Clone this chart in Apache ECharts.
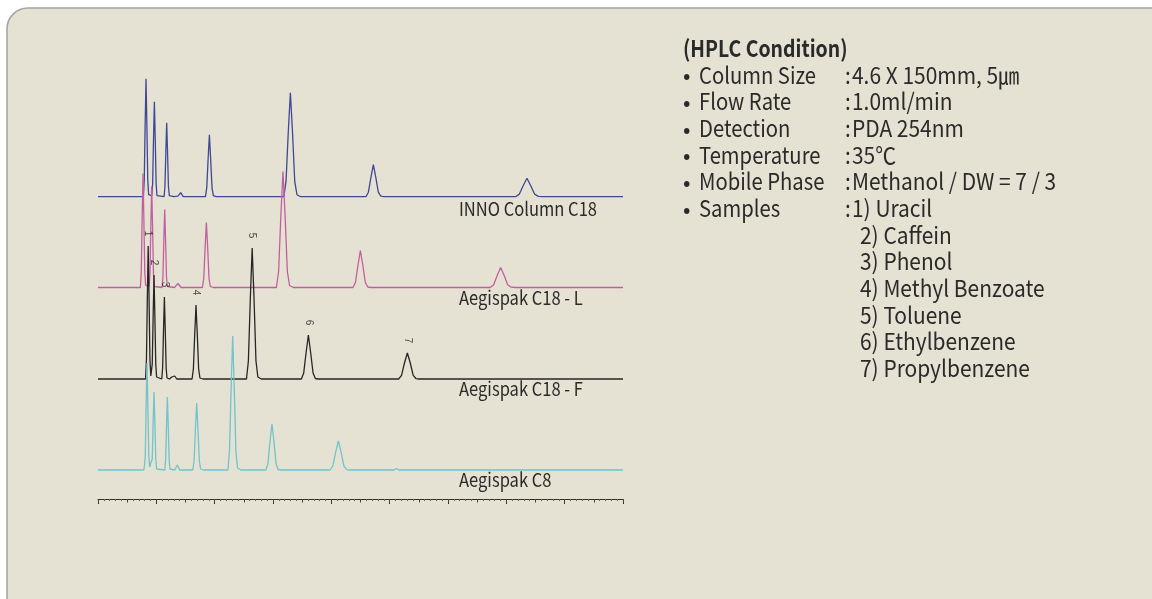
<!DOCTYPE html>
<html><head><meta charset="utf-8">
<script src="https://cdn.jsdelivr.net/npm/echarts@6/dist/echarts.min.js"></script>
<style>html,body{margin:0;padding:0;background:#fff;}#c{width:1152px;height:599px;}</style>
</head><body><div id="c"></div>
<script>
// ---- data (time in min, detector response) ----
const traceNames = ['INNO Column C18', 'Aegispak C18 - L', 'Aegispak C18 - F', 'Aegispak C8'];

const innoC18 = [
  [0,0],
  [1.556,0],[1.586,17],[1.616,71],[1.646,118],[1.676,71],[1.706,17],[1.736,2],
  [1.843,1],[1.873,13],[1.903,57],[1.933,95],[1.963,57],[1.993,13],[2.023,1],
  [2.265,0],[2.295,10],[2.325,44],[2.355,74],[2.385,44],[2.415,10],[2.445,1],
  [2.6,0],[2.664,1.5],[2.74,0.5],[2.835,4],[2.92,0],
  [3.684,0],[3.729,9],[3.774,37],[3.819,62],[3.864,37],[3.909,9],[3.954,1],[4.05,0],
  [6.371,0],[6.446,15],[6.521,63],[6.596,104],[6.671,63],[6.746,15],[6.821,2],[6.95,0],
  [9.186,0],[9.271,4.5],[9.356,19],[9.441,32],[9.526,19],[9.611,4.5],[9.696,0.5],[9.8,0],
  [14.317,0],[14.447,2.6],[14.577,11],[14.707,18.5],[14.837,11],[14.967,2.6],[15.097,0.3],[15.25,0],
  [18,0]
];

const aegispakC18L = [
  [0,0],
  [1.453,0],[1.483,16],[1.513,68],[1.543,114],[1.573,68],[1.603,16],[1.633,2],
  [1.751,1],[1.781,14],[1.811,61],[1.841,101],[1.871,61],[1.901,14],[1.931,1],
  [2.197,0],[2.227,11],[2.257,47],[2.287,78],[2.317,47],[2.347,11],[2.377,1],
  [2.62,0],[2.743,4],[2.85,0],
  [3.581,0],[3.626,9],[3.671,39],[3.716,65],[3.761,39],[3.806,9],[3.851,1],[3.95,0],
  [6.117,0],[6.192,16],[6.267,70],[6.342,116],[6.417,70],[6.492,16],[6.567,2],[6.7,0],
  [8.741,0],[8.826,5],[8.911,22],[8.996,37],[9.081,22],[9.166,5],[9.251,0.5],[9.35,0],
  [9.7,0],[9.76,1],[9.82,0],[10.18,0],[10.24,1],[10.3,0],
  [13.446,0],[13.566,2.8],[13.686,12],[13.806,20],[13.926,12],[14.046,2.8],[14.166,0.3],[14.3,0],
  [18,0]
];

const aegispakC18F = [
  [0,0],
  [1.631,0],[1.661,19],[1.691,80],[1.721,133],[1.751,80],[1.781,19],[1.811,3],
  [1.83,3],[1.86,15],[1.89,62],[1.92,104],[1.95,62],[1.98,15],[2.01,2],
  [2.186,0],[2.216,11],[2.246,49],[2.276,82],[2.306,49],[2.336,11],[2.366,1],
  [2.45,0],[2.53,2],[2.58,0.5],[2.63,3],[2.7,0],
  [3.225,0],[3.27,10],[3.315,44],[3.36,74],[3.405,44],[3.45,10],[3.495,1],[3.6,0],
  [5.091,0],[5.156,18],[5.221,79],[5.286,131],[5.351,79],[5.416,18],[5.481,2],[5.6,0],
  [6.973,0],[7.053,6],[7.133,26],[7.213,44],[7.293,26],[7.373,6],[7.453,0.5],[7.55,0],
  [10.307,0],[10.407,3.6],[10.507,16],[10.607,26],[10.707,16],[10.807,3.6],[10.907,0.3],[11.0,0],
  [18,0]
];

const aegispakC8 = [
  [0,0],
  [1.57,0],[1.6,6],[1.62,14],[1.65,64],[1.68,107],[1.71,64],[1.74,15],[1.77,3],
  [1.83,2],[1.86,11],[1.89,47],[1.92,78],[1.95,47],[1.98,11],[2.01,1],
  [2.289,0],[2.319,10],[2.349,44],[2.379,73],[2.409,44],[2.439,10],[2.469,1],
  [2.63,0],[2.722,5],[2.8,0],
  [3.249,0],[3.294,9],[3.339,40],[3.384,67],[3.429,40],[3.474,9],[3.519,1],[3.62,0],
  [4.453,0],[4.508,19],[4.563,80],[4.618,134],[4.673,80],[4.728,19],[4.783,2],[4.9,0],
  [5.755,0],[5.825,6.4],[5.895,28],[5.965,46],[6.035,28],[6.105,6.4],[6.175,0.5],[6.28,0],
  [7.957,0],[8.052,4],[8.147,17.6],[8.242,29],[8.337,17.6],[8.432,4],[8.527,0.3],[8.65,0],
  [10.15,0],[10.23,1.5],[10.31,0],
  [18,0]
];

const peakNumbers = ['1','2','3','4','5','6','7'];
const peakTimesF = [1.721, 1.920, 2.276, 3.360, 5.286, 7.213, 10.607];
const peakHeightsF = [133, 104, 82, 74, 131, 44, 26];

const conditionTitle = '(HPLC Condition)';
const conditionLabels = ['Column Size', 'Flow Rate', 'Detection', 'Temperature', 'Mobile Phase', 'Samples'];
const conditionValues = ['4.6 X 150mm, 5㎛', '1.0ml/min', 'PDA 254nm', '35℃', 'Methanol / DW = 7 / 3', '1) Uracil'];
const sampleList = ['2) Caffein', '3) Phenol', '4) Methyl Benzoate', '5) Toluene', '6) Ethylbenzene', '7) Propylbenzene'];

// ---- styling / layout ----
const traces = [innoC18, aegispakC18L, aegispakC18F, aegispakC8];
const offsets = [302.3, 211.5, 120, 29];
const colors = ['#3f4895', '#c2609e', '#262626', '#72c3cb'];
const nameY = [209, 297.5, 388.5, 479.5];
const FONT = "'Noto Sans CJK KR','Noto Sans',sans-serif";
const TXT = '#2a2a2a';

const chart = echarts.init(document.getElementById('c'), null, {renderer: 'canvas'});

const series = traces.map((d, i) => ({
  type: 'line',
  name: traceNames[i],
  data: d.map(p => [p[0], p[1] + offsets[i]]),
  symbol: 'none',
  lineStyle: {color: colors[i], width: 1.3},
  silent: true,
  z: 2 + i
}));
series.push({
  type: 'scatter',
  data: peakTimesF.map((t, k) => [t, peakHeightsF[k] + offsets[2]]),
  symbolSize: 1,
  itemStyle: {color: 'rgba(0,0,0,0)'},
  silent: true,
  z: 10,
  label: {
    show: true,
    position: 'top',
    distance: 12,
    rotate: -90,
    align: 'center',
    verticalAlign: 'middle',
    fontSize: 10,
    fontFamily: 'Arial, Liberation Sans, sans-serif',
    color: '#222',
    formatter: p => peakNumbers[p.dataIndex]
  }
});

function txt(text, x, y, size, sx, weight) {
  return {
    type: 'text', z: 20, silent: true, x: x, y: y, scaleX: sx, originX: 0, originY: 0,
    style: {text: text, x: 0, y: 0, font: (weight || 'normal') + ' ' + size + 'px ' + FONT,
            fill: TXT, textAlign: 'left', align: 'left', textVerticalAlign: 'middle', verticalAlign: 'middle'}
  };
}

const graphics = [];
graphics.push({
  type: 'rect', z: -10, silent: true,
  shape: {x: 7, y: 8, width: 1170, height: 620, r: 21},
  style: {fill: '#e5e2d3', stroke: '#a3a3a3', lineWidth: 1.5}
});
traceNames.forEach((n, i) => graphics.push(txt(n, 459, nameY[i], 19, 0.87)));
const lineH = 26.67, y0 = 48.3;
graphics.push(txt(conditionTitle, 683, y0, 23, 0.845, 'bold'));
conditionLabels.forEach((l, i) => {
  const y = y0 + lineH * (i + 1);
  graphics.push(txt('•', 683, y, 22, 1));
  graphics.push(txt(l, 699, y, 23, 0.88));
  graphics.push(txt(':', 845, y, 23, 0.9));
  graphics.push(txt(conditionValues[i], 852, y, 23, 0.91));
});
sampleList.forEach((s, i) => {
  const y = y0 + lineH * (conditionLabels.length + 1 + i);
  graphics.push(txt(s, 860, y, 23, 0.91));
});

chart.setOption({
  animation: false,
  backgroundColor: '#ffffff',
  grid: {left: 98, right: 529, top: 59, bottom: 100, containLabel: false},
  xAxis: [
    {type: 'value', min: 0, max: 18, interval: 2, position: 'bottom',
     axisLine: {show: true, onZero: false, lineStyle: {color: '#2e2e2e', width: 1}},
     axisTick: {show: true, inside: false, length: 5, lineStyle: {color: '#2e2e2e'}},
     axisLabel: {show: false}, splitLine: {show: false}},
    {type: 'value', min: 0, max: 18, interval: 1, position: 'bottom', offset: 0,
     axisLine: {show: false, onZero: false},
     axisTick: {show: true, length: 3.5, lineStyle: {color: '#444'}},
     minorTick: {show: true, splitNumber: 5, length: 2, lineStyle: {color: '#666'}},
     axisLabel: {show: false}, splitLine: {show: false}}
  ],
  yAxis: {type: 'value', min: 0, max: 440, show: false, splitLine: {show: false}},
  series: series,
  graphic: graphics
});
</script></body></html>
